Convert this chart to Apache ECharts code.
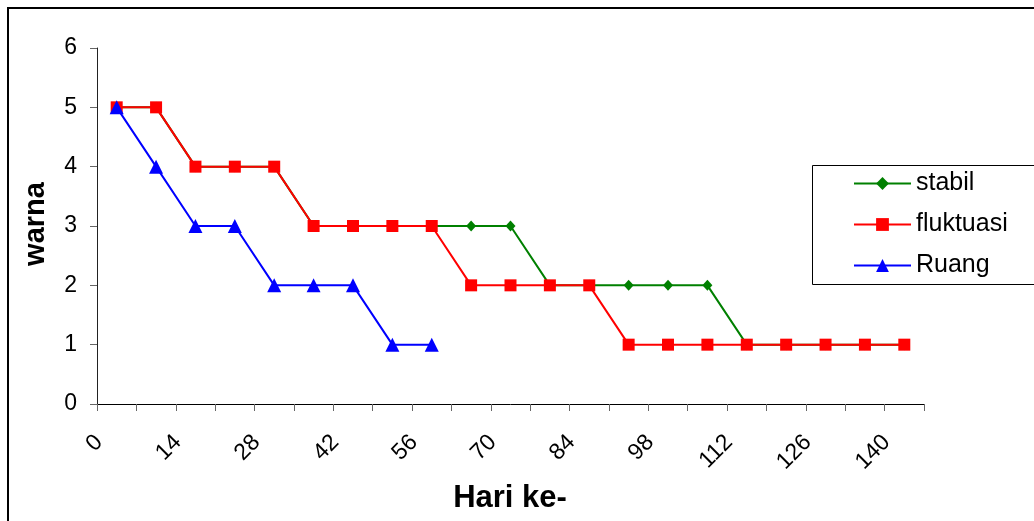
<!DOCTYPE html>
<html>
<head>
<meta charset="utf-8">
<script src="https://cdn.jsdelivr.net/npm/echarts@6/dist/echarts.min.js"></script>
<style>
  html, body { margin: 0; padding: 0; background: #fff; }
  #chart { width: 1034px; height: 521px; }
</style>
</head>
<body>
<div id="chart"></div>
<script>
// Day of observation (every 7 days)
const days = ['0','7','14','21','28','35','42','49','56','63','70','77','84','91','98','105','112','119','126','133','140'];

// Colour score per observation
const stabil    = [5,5,4,4,4,3,3,3,3,3,3,2,2,2,2,2,1,1,1,1,1];
const fluktuasi = [5,5,4,4,4,3,3,3,3,2,2,2,2,1,1,1,1,1,1,1,1];
const ruang     = [5,4,3,3,2,2,2,1,1];

const yTicks = { min: 0, max: 6, step: 1 };

const FONT = '"Liberation Sans", Arial, sans-serif';

const chart = echarts.init(document.getElementById('chart'), null, { renderer: 'canvas' });

chart.setOption({
  animation: false,
  backgroundColor: '#fff',
  grid: { left: 97, right: 110, top: 48, bottom: 117, containLabel: false },
  xAxis: {
    type: 'category',
    data: days,
    boundaryGap: true,
    axisLine: { show: true, lineStyle: { color: '#000', width: 1 } },
    axisTick: { show: true, interval: 0, alignWithLabel: false, length: 7, lineStyle: { color: '#666' } },
    axisLabel: {
      interval: 1,
      rotate: 45,
      margin: 17,
      padding: [0, 25, 0, 0],
      fontFamily: FONT,
      fontSize: 23,
      color: '#000'
    },
    splitLine: { show: false }
  },
  yAxis: {
    type: 'value',
    min: yTicks.min,
    max: yTicks.max,
    interval: yTicks.step,
    axisLine: { show: true, lineStyle: { color: '#222', width: 1 } },
    axisTick: { show: true, length: 7, lineStyle: { color: '#666' } },
    axisLabel: { margin: 20, fontFamily: FONT, fontSize: 23, color: '#000' },
    splitLine: { show: false }
  },
  legend: {
    orient: 'vertical',
    left: 853,
    top: 171,
    padding: 0,
    itemWidth: 57,
    itemHeight: 16,
    itemGap: 16,
    textStyle: { fontFamily: FONT, fontSize: 25, color: '#000' },
    data: ['stabil', 'fluktuasi', 'Ruang']
  },
  series: [
    {
      name: 'stabil',
      type: 'line',
      data: stabil,
      color: '#008000',
      symbol: 'diamond',
      symbolSize: [10, 11],
      lineStyle: { width: 2, color: '#008000' },
      itemStyle: { color: '#008000' },
      z: 2
    },
    {
      name: 'fluktuasi',
      type: 'line',
      data: fluktuasi,
      color: '#ff0000',
      symbol: 'rect',
      symbolSize: 12,
      lineStyle: { width: 2, color: '#ff0000' },
      itemStyle: { color: '#ff0000' },
      z: 3
    },
    {
      name: 'Ruang',
      type: 'line',
      data: ruang,
      color: '#0000ff',
      symbol: 'triangle',
      symbolSize: 14,
      lineStyle: { width: 2, color: '#0000ff' },
      itemStyle: { color: '#0000ff' },
      z: 4
    }
  ],
  graphic: [
    {
      type: 'rect',
      shape: { x: 8, y: 8, width: 1100, height: 600 },
      style: { fill: 'none', stroke: '#000', lineWidth: 2 },
      silent: true
    },
    {
      type: 'rect',
      shape: { x: 812.5, y: 165.5, width: 300, height: 119 },
      style: { fill: 'none', stroke: '#000', lineWidth: 1 },
      silent: true,
      z: -1
    },
    {
      type: 'text',
      x: 36,
      y: 224,
      rotation: Math.PI / 2,
      style: {
        text: 'warna',
        fontFamily: FONT,
        fontWeight: 'bold',
        fontSize: 29,
        fill: '#000',
        align: 'center',
        verticalAlign: 'middle'
      }
    },
    {
      type: 'text',
      x: 510,
      y: 498,
      style: {
        text: 'Hari ke-',
        fontFamily: FONT,
        fontWeight: 'bold',
        fontSize: 31,
        fill: '#000',
        align: 'center',
        verticalAlign: 'middle'
      }
    }
  ]
});
</script>
</body>
</html>
